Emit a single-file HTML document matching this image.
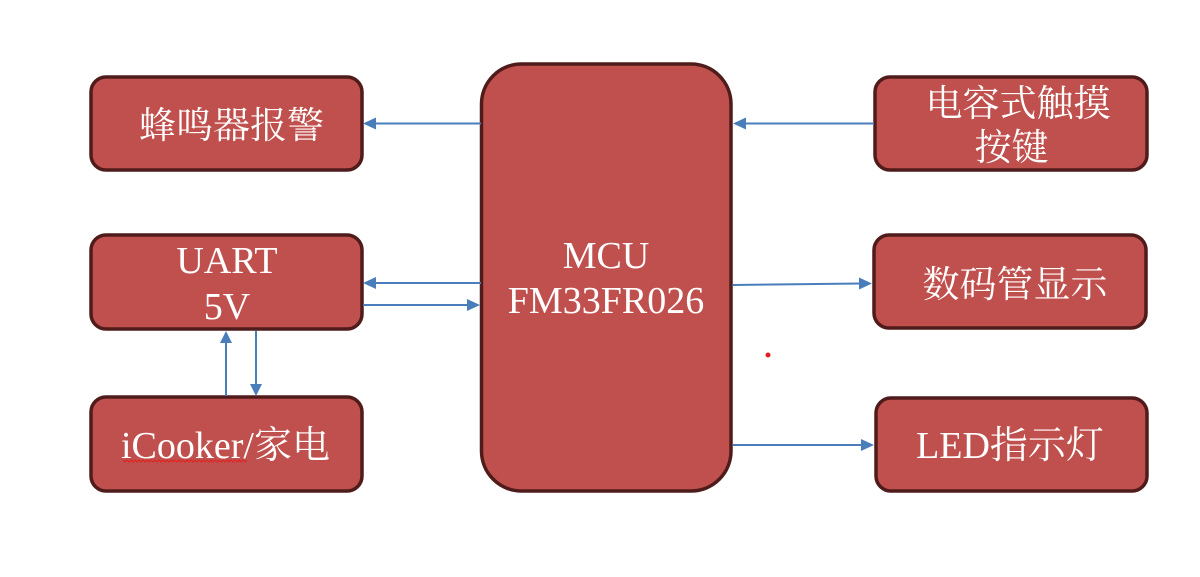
<!DOCTYPE html>
<html>
<head>
<meta charset="utf-8">
<style>
html,body{margin:0;padding:0;background:#fff;}
svg{display:block;}
text{fill:#fff;}
.cjk{font-family:"Liberation Serif","Noto Serif CJK SC",serif;font-size:37px;}
.lat{font-family:"Liberation Serif","Noto Serif CJK SC",serif;font-size:38px;}
</style>
</head>
<body>
<svg width="1200" height="577" viewBox="0 0 1200 577" xmlns="http://www.w3.org/2000/svg">
<rect width="1200" height="577" fill="#fff"/>
<g fill="#C0504D" stroke="#4F1C1B" stroke-width="3.5">
  <!-- left boxes -->
  <rect x="91" y="77" width="271" height="93" rx="15" ry="15"/>
  <rect x="91" y="235" width="271" height="94" rx="15" ry="15"/>
  <rect x="91" y="397" width="271" height="94" rx="15" ry="15"/>
  <!-- MCU -->
  <rect x="481.5" y="64" width="249.5" height="427" rx="40" ry="40"/>
  <!-- right boxes -->
  <rect x="875" y="77" width="272" height="93" rx="15" ry="15"/>
  <rect x="874" y="235" width="272" height="93" rx="15" ry="15"/>
  <rect x="876" y="398" width="271" height="93" rx="15" ry="15"/>
</g>

<!-- connectors -->
<g stroke="#4A7EBB" stroke-width="2" fill="none">
  <line x1="481" y1="123.5" x2="374" y2="123.5"/>
  <line x1="481" y1="283" x2="374" y2="283"/>
  <line x1="363" y1="305" x2="469" y2="305"/>
  <line x1="874" y1="123.5" x2="744" y2="123.5"/>
  <line x1="733" y1="285" x2="861" y2="283.5"/>
  <line x1="733" y1="445" x2="863" y2="445"/>
  <line x1="226" y1="396" x2="226" y2="341"/>
  <line x1="256" y1="331" x2="256" y2="385"/>
</g>
<g fill="#4A7EBB">
  <polygon points="363,123.5 376,117.5 376,129.5"/>
  <polygon points="363,283 376,277 376,289"/>
  <polygon points="480,305 467,299 467,311"/>
  <polygon points="733,123.5 746,117.5 746,129.5"/>
  <polygon points="872,283.5 859,277.5 859,289.5"/>
  <polygon points="874,445 861,439 861,451"/>
  <polygon points="226,331 220,343 232,343"/>
  <polygon points="256,396 250,384 262,384"/>
</g>

<!-- labels -->
<text class="cjk" x="231.5" y="138" text-anchor="middle">蜂鸣器报警</text>
<text class="lat" x="227" y="273" text-anchor="middle">UART</text>
<text class="lat" x="227" y="319" text-anchor="middle">5V</text>
<text class="lat" x="225.5" y="458" text-anchor="middle">iCooker/家电</text>
<polyline points="123,460 125,462 127,460 129,462 131,460 133,462 135,460 137,462 139,460 141,462 143,460 145,462 147,460 149,462 151,460 153,462 155,460 157,462 159,460 161,462 163,460 165,462 167,460 169,462 171,460 173,462 175,460 177,462 179,460 181,462 183,460 185,462 187,460 189,462 191,460 193,462 195,460 197,462 199,460 201,462 203,460 205,462 207,460 209,462 211,460 213,462 215,460 217,462 219,460 221,462 223,460 225,462 227,460 229,462 231,460 233,462 235,460 237,462 239,460 241,462 243,460 245,462 247,460" fill="none" stroke="#E02020" stroke-width="1"/>

<text class="lat" x="606" y="268" text-anchor="middle">MCU</text>
<text class="lat" x="606" y="313" text-anchor="middle">FM33FR026</text>

<text class="cjk" x="1018" y="116" text-anchor="middle">电容式触摸</text>
<text class="cjk" x="1011.5" y="160" text-anchor="middle">按键</text>
<text class="cjk" x="1015" y="297" text-anchor="middle">数码管显示</text>
<text class="lat" x="1010" y="458" text-anchor="middle">LED指示灯</text>

<circle cx="768" cy="355" r="2.5" fill="#E02020"/>
</svg>
</body>
</html>
